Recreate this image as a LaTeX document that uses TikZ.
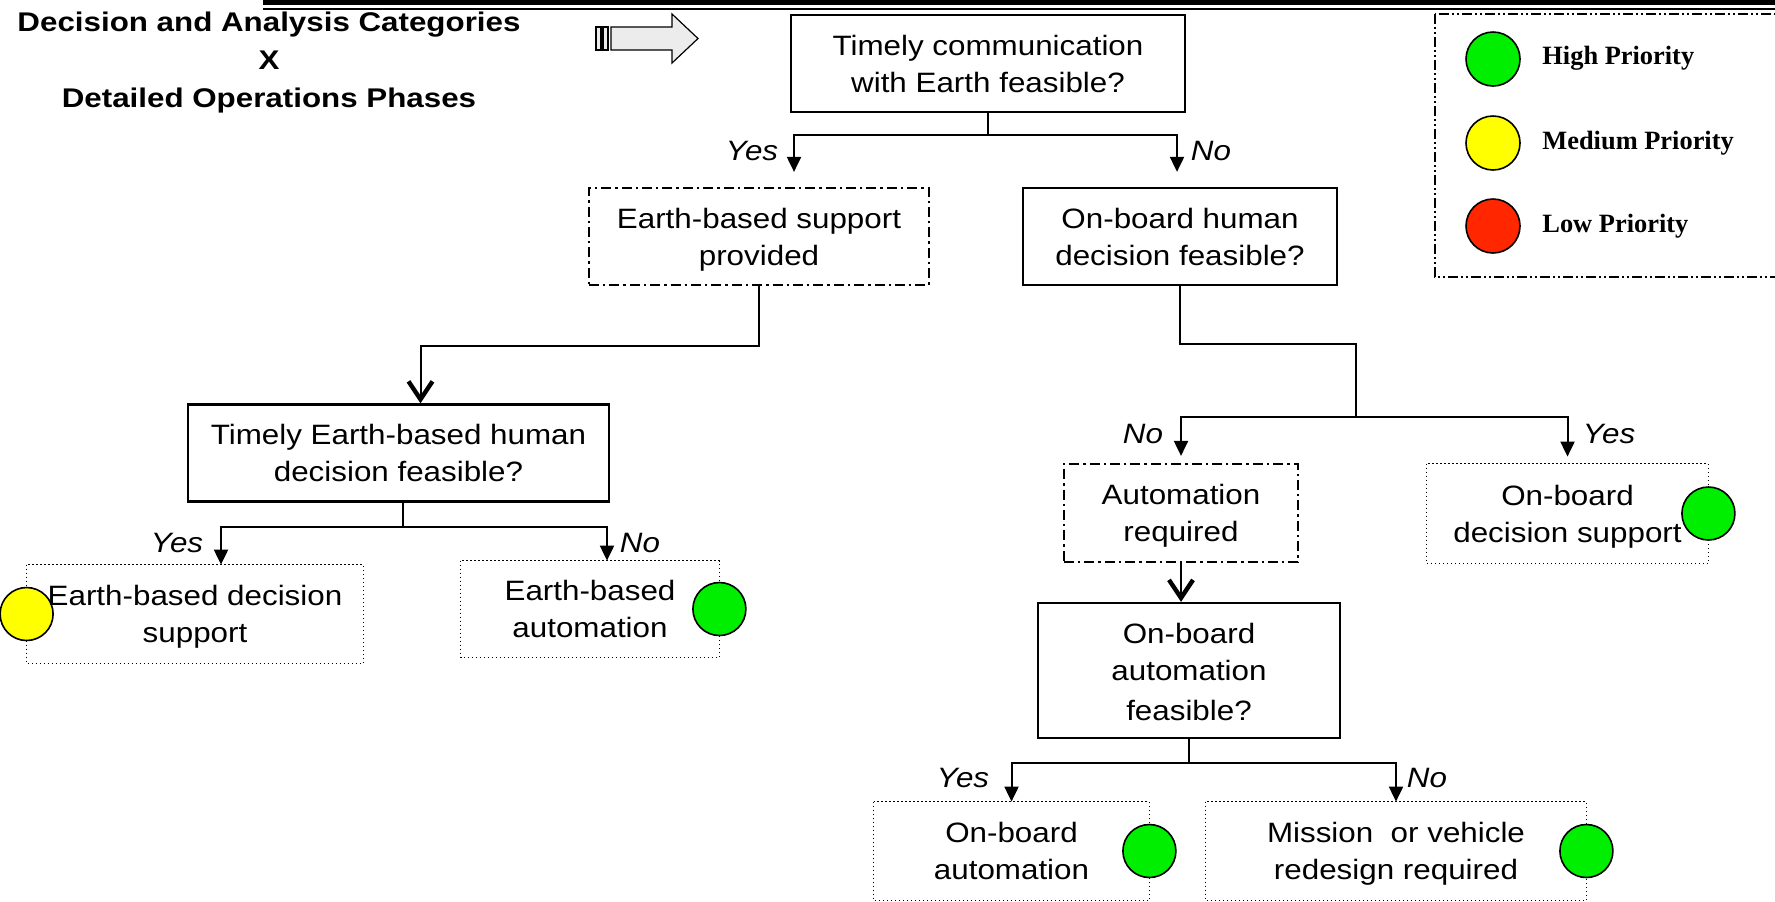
\documentclass[tikz,border=0pt]{standalone}
\usepackage{fontspec}
\setmainfont{Liberation Sans}
\newfontfamily\boxface[FakeStretch=1.12]{Liberation Sans}
\newfontfamily\titleface[FakeStretch=1.16]{Liberation Sans}
\newfontfamily\legendface{Liberation Serif}
\usetikzlibrary{arrows.meta,calc}

\definecolor{prihigh}{RGB}{0,238,0}
\definecolor{primed}{RGB}{255,255,0}
\definecolor{prilow}{RGB}{255,38,0}
\definecolor{arrowfill}{RGB}{236,236,236}

% move a line of box text down a little without changing the box size
\newcommand\dropline[1]{\raisebox{-1.6pt}[\height][\depth]{#1}}

\pgfdeclarelayer{back}
\pgfsetlayers{back,main}

\tikzset{
  boxtext/.style={font=\boxface\fontsize{14pt}{18.5pt}\selectfont, align=center, inner sep=0pt, rectangle},
  qbox/.style={boxtext, draw, line width=1.15pt},
  ddbox/.style={boxtext, draw, line width=1.1pt, dash pattern=on 5pt off 2pt on 1.2pt off 2pt},
  outbox/.style={boxtext},
  dotline/.style={line width=0.7pt, dash pattern=on 0.7pt off 1.3pt},
  link/.style={line width=1pt},
  yn/.style={link, -{Triangle[length=7.5pt,width=7pt]}},
  barb/.style={link, -{Straight Barb[length=9pt,width=12pt,line width=2.2pt]}},
  lbl/.style={font=\boxface\fontsize{14pt}{17pt}\selectfont\itshape, inner sep=0pt, anchor=base},
  pri/.style={circle, draw, line width=0.8pt, minimum size=26.5pt, inner sep=0pt},
  legtext/.style={font=\legendface\bfseries\fontsize{13.2pt}{16pt}\selectfont, inner sep=0pt, anchor=base west},
  titletext/.style={font=\titleface\bfseries\fontsize{13.5pt}{19pt}\selectfont, align=center, inner sep=0pt},
}

\begin{document}
\begin{tikzpicture}[x=0.5pt, y=-0.5pt]
\useasboundingbox (0,0) rectangle (1775,901);

% heading rule
\fill (263,0) rectangle (1790,5);
\draw[line width=1pt] (263,9) -- (1790,9);

% heading
\node[titletext] (title) at (269,63) {Decision and Analysis Categories\\X\\Detailed Operations Phases};

% block arrow pointing at the first question
\draw[line width=0.6pt, fill=arrowfill] (596,27) rectangle (601,50);
\draw[line width=0.6pt, fill=arrowfill] (603,27) rectangle (608,50);
\draw[line width=0.6pt, fill=arrowfill] (611,27) -- (672,27) -- (672,14) -- (698,38.5)
  -- (672,63) -- (672,50) -- (611,50) -- cycle;

% questions and intermediate states
\node[qbox, minimum width=197pt, minimum height=48.5pt] (q1) at (988,63.5)
  {Timely communication\\with Earth feasible?};
\node[ddbox, minimum width=170pt, minimum height=48.5pt] (s1) at (759,236.5)
  {\dropline{Earth-based support}\\\dropline{provided}};
\node[qbox, minimum width=157pt, minimum height=48.5pt] (q2) at (1180,236.5)
  {On-board human\\decision feasible?};
\node[qbox, minimum width=210.5pt, minimum height=48.5pt] (q3) at (398.5,453)
  {Timely Earth-based human\\decision feasible?};
\node[ddbox, minimum width=117pt, minimum height=49pt] (a1) at (1181,513)
  {\dropline{Automation}\\\dropline{required}};
\node[qbox, minimum width=151pt, minimum height=67.5pt] (q4) at (1189,670.5)
  {On-board\\automation\\\dropline{feasible?}};

% outcomes
\node[outbox, minimum width=168pt, minimum height=49pt] (e1) at (195,614)
  {\dropline{Earth-based decision}\\\dropline{support}};
\node[outbox, minimum width=129pt, minimum height=48pt] (e2) at (590,609)
  {Earth-based\\automation};
\node[outbox, minimum width=140.5pt, minimum height=49.5pt] (d1) at (1567.5,513.5)
  {\dropline{On-board}\\\dropline{decision support}};
\node[outbox, minimum width=137.5pt, minimum height=49pt] (b1) at (1011.5,851)
  {On-board\\automation};
\node[outbox, minimum width=190pt, minimum height=49pt] (b2) at (1396,851)
  {\dropline{Mission~ or vehicle}\\\dropline{redesign required}};

% outcome frames and priority marks, kept under the outcome texts
\begin{pgfonlayer}{back}
  \foreach \n in {e1,e2,d1,b1,b2}
    \draw[dotline] (\n.north west) rectangle (\n.south east);
  \node[pri, fill=primed] (m1) at (e1.west) {};
  \node[pri, fill=prihigh] (m2) at (e2.east) {};
  \node[pri, fill=prihigh] (m3) at (d1.east) {};
  \node[pri, fill=prihigh] (m4) at (b1.east) {};
  \node[pri, fill=prihigh] (m5) at (b2.east) {};
\end{pgfonlayer}

% first decision
\coordinate (q1j) at ($(q1.south)+(0,22)$);
\draw[link] (q1.south) -- (q1j);
\draw[yn] (q1j) -| ($(s1.north)+(35,-15)$);
\draw[yn] (q1j) -| ($(q2.north)+(-3,-15)$);
\node[lbl] (l1) at (752,160) {Yes};
\node[lbl] (l2) at (1211,160) {No};

% Earth-based branch
\draw[barb] (s1.south) -- ++(0,60) -| ($(q3.north)+(22,0)$);
\coordinate (q3s) at ($(q3.south)+(4,0)$);
\coordinate (q3j) at ($(q3s)+(0,24)$);
\draw[link] (q3s) -- (q3j);
\draw[yn] (q3j) -| ($(e1.north)+(26,0)$);
\draw[yn] (q3j) -| ($(e2.north)+(17,0)$);
\node[lbl] (l3) at (177,552) {Yes};
\node[lbl] (l4) at (640,552) {No};

% on-board branch
\coordinate (q2j) at (1356,417);
\draw[link] (q2.south) -- ++(0,58) -| (q2j);
\draw[yn, shorten >=3.5pt] (q2j) -| (a1.north);
\draw[yn, shorten >=3.5pt] (q2j) -| (d1.north);
\node[lbl] (l5) at (1143,443) {No};
\node[lbl] (l6) at (1609,443) {Yes};

\draw[barb] (a1.south) -- (a1.south |- q4.north);

\coordinate (q4j) at ($(q4.south)+(0,24)$);
\draw[link] (q4.south) -- (q4j);
\draw[yn] (q4j) -| (b1.north);
\draw[yn] (q4j) -| (b2.north);
\node[lbl] (l7) at (963,787) {Yes};
\node[lbl] (l8) at (1427,787) {No};

% legend
\draw[line width=1pt, dash pattern=on 5pt off 1.5pt on 1pt off 1.5pt on 1pt off 1.5pt]
  (1435,14) rectangle (1800,277);
\node[pri, fill=prihigh, minimum size=27pt] (g1) at (1493,59) {};
\node[pri, fill=primed, minimum size=27pt] (g2) at (1493,143) {};
\node[pri, fill=prilow, minimum size=27pt] (g3) at (1493,226) {};
\node[legtext] (t1) at (1542,64) {High Priority};
\node[legtext] (t2) at (1542,149) {Medium Priority};
\node[legtext] (t3) at (1542,232) {Low Priority};
\end{tikzpicture}
\end{document}
